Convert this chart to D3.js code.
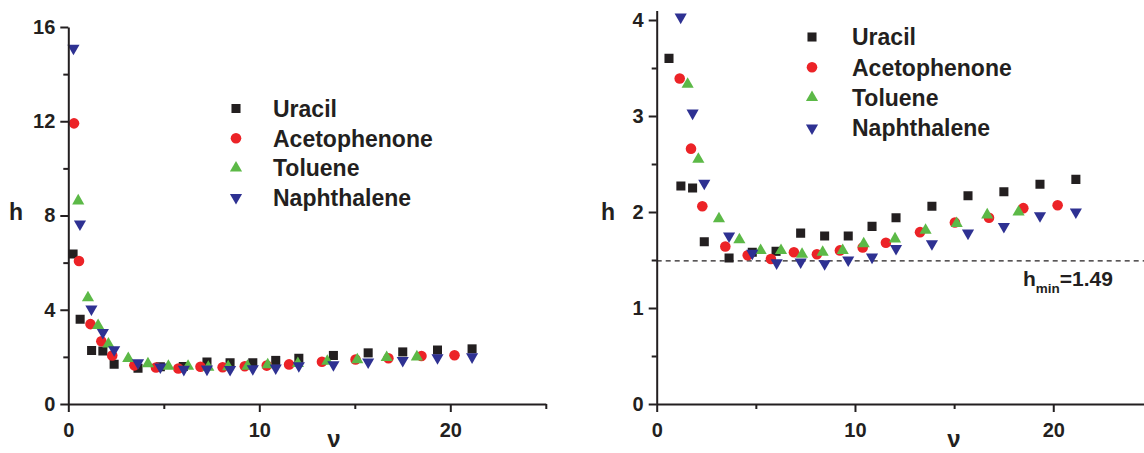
<!DOCTYPE html>
<html>
<head>
<meta charset="utf-8">
<script src="https://cdn.jsdelivr.net/npm/d3@7"></script>
<style>
  html, body { margin: 0; padding: 0; background: #fff; }
  svg { display: block; }
  text { font-family: "Liberation Sans", Arial, sans-serif; font-weight: bold; fill: #231f20; }
</style>
</head>
<body>
<svg id="chart" width="1144" height="453"></svg>
<script>
// Plate height h versus reduced velocity ν for four test solutes
const seriesNames = ["Uracil", "Acetophenone", "Toluene", "Naphthalene"];

const uracilNu = [0.25, 0.62, 1.22, 1.81, 2.40, 3.65, 4.82, 6.02, 7.26, 8.47, 9.66, 10.86, 12.07, 13.88, 15.70, 17.51, 19.33, 21.14];
const uracilH  = [6.37, 3.60, 2.27, 2.25, 1.69, 1.52, 1.58, 1.59, 1.78, 1.75, 1.75, 1.85, 1.94, 2.06, 2.17, 2.21, 2.29, 2.34];

const acetNu = [0.30, 0.56, 1.16, 1.73, 2.30, 3.46, 4.59, 5.76, 6.92, 8.08, 9.24, 10.39, 11.56, 13.28, 15.04, 16.76, 18.49, 20.22];
const acetH  = [11.91, 6.07, 3.39, 2.66, 2.06, 1.64, 1.55, 1.51, 1.58, 1.56, 1.60, 1.63, 1.68, 1.79, 1.89, 1.94, 2.04, 2.07];

const tolNu = [0.52, 1.03, 1.56, 2.10, 3.14, 4.17, 5.24, 6.27, 7.33, 8.37, 9.38, 10.44, 12.02, 13.56, 15.13, 16.67, 18.25];
const tolH  = [8.62, 4.51, 3.33, 2.55, 1.93, 1.71, 1.60, 1.60, 1.56, 1.58, 1.60, 1.67, 1.72, 1.81, 1.88, 1.97, 2.00];

const naphNu = [0.27, 0.61, 1.21, 1.81, 2.40, 3.65, 4.82, 6.05, 7.26, 8.47, 9.66, 10.86, 12.07, 13.88, 15.70, 17.51, 19.33, 21.14];
const naphH  = [15.1, 7.64, 4.03, 3.03, 2.30, 1.75, 1.57, 1.47, 1.48, 1.46, 1.50, 1.53, 1.62, 1.67, 1.78, 1.85, 1.96, 2.00];

const hMin = 1.49;

const leftYTicks = [0, 4, 8, 12, 16];
const leftYMinor = [2, 6, 10, 14];
const rightYTicks = [0, 1, 2, 3, 4];
const rightYMinor = [0.5, 1.5, 2.5, 3.5];
const xTicks = [0, 10, 20];
const xMinor = [5, 15, 25];

const seriesNu = [uracilNu, acetNu, tolNu, naphNu];
const seriesH = [uracilH, acetH, tolH, naphH];

// marker styling per series
const styles = [
  { type: d3.symbolSquare,   size: 82, rotate: 0,   color: "#231f20" },
  { type: d3.symbolCircle,   size: 88, rotate: 0,   color: "#ec2327" },
  { type: d3.symbolTriangle, size: 64, rotate: 0,   color: "#5cb947" },
  { type: d3.symbolTriangle, size: 64, rotate: 180, color: "#2e3192" }
];

const series = seriesNames.map((name, i) => ({
  name,
  style: styles[i],
  points: seriesNu[i].map((nu, j) => ({ nu, h: seriesH[i][j] }))
}));

const svg = d3.select("#chart");

function drawPanel(cfg) {
  const g = svg.append("g");
  const x = d3.scaleLinear().domain(cfg.xDomain).range(cfg.xRange);
  const y = d3.scaleLinear().domain(cfg.yDomain).range(cfg.yRange);

  const clipId = "clip-" + cfg.id;
  svg.append("clipPath").attr("id", clipId)
    .append("rect")
    .attr("x", cfg.xRange[0] - 8).attr("y", cfg.yRange[1] - 4)
    .attr("width", cfg.xRange[1] - cfg.xRange[0] + 16)
    .attr("height", cfg.yRange[0] - cfg.yRange[1] + 8);

  // optional reference line
  if (cfg.refLine != null) {
    g.append("line")
      .attr("x1", x(0)).attr("x2", 1144)
      .attr("y1", y(cfg.refLine)).attr("y2", y(cfg.refLine))
      .attr("stroke", "#231f20").attr("stroke-width", 1.3)
      .attr("stroke-dasharray", "5,4");
  }

  // data markers
  const marks = g.append("g").attr("clip-path", `url(#${clipId})`);
  series.forEach(s => {
    const sym = d3.symbol().type(s.style.type).size(s.style.size);
    marks.append("g").selectAll("path")
      .data(s.points.filter(p => p.h <= cfg.yDomain[1] + 0.05))
      .join("path")
      .attr("d", sym)
      .attr("transform", d => `translate(${x(d.nu)},${y(d.h)}) rotate(${s.style.rotate})`)
      .attr("fill", s.style.color);
  });

  // axes
  const styleAxis = sel => {
    sel.selectAll(".domain").attr("stroke", "#231f20").attr("stroke-width", 2);
    sel.selectAll(".tick line").attr("stroke", "#231f20").attr("stroke-width", 2);
    sel.selectAll(".tick text").style("font-size", "20px").attr("fill", "#231f20");
  };

  const xAxis = g.append("g").attr("transform", `translate(0,${cfg.yRange[0]})`)
    .call(d3.axisBottom(x).tickValues(xTicks).tickSize(8).tickSizeOuter(0).tickPadding(11).tickFormat(d3.format("d")))
    .call(styleAxis);
  xAxis.attr("font-family", null);
  g.append("g").attr("transform", `translate(0,${cfg.yRange[0]})`)
    .call(d3.axisBottom(x).tickValues(xMinor).tickSize(5).tickSizeOuter(0).tickFormat(""))
    .call(styleAxis).select(".domain").remove();

  const yAxis = g.append("g").attr("transform", `translate(${cfg.xRange[0]},0)`)
    .call(d3.axisLeft(y).tickValues(cfg.yTicks).tickSize(8).tickSizeOuter(0).tickPadding(5).tickFormat(d3.format("d")))
    .call(styleAxis);
  yAxis.attr("font-family", null);
  g.append("g").attr("transform", `translate(${cfg.xRange[0]},0)`)
    .call(d3.axisLeft(y).tickValues(cfg.yMinor).tickSize(5).tickSizeOuter(0).tickFormat(""))
    .call(styleAxis).select(".domain").remove();

  // axis titles
  g.append("text").attr("x", cfg.hLabel[0]).attr("y", cfg.hLabel[1])
    .style("font-size", "23px").text("h");
  g.append("text").attr("x", cfg.nuLabel[0]).attr("y", cfg.nuLabel[1])
    .attr("text-anchor", "middle").style("font-size", "24px").text("ν");

  // legend
  const lg = g.append("g");
  series.forEach((s, i) => {
    const cy = cfg.legend.y0 + i * cfg.legend.dy;
    lg.append("path")
      .attr("d", d3.symbol().type(s.style.type).size(s.style.size))
      .attr("transform", `translate(${cfg.legend.mx},${cy}) rotate(${s.style.rotate})`)
      .attr("fill", s.style.color);
    lg.append("text").attr("x", cfg.legend.tx).attr("y", cy + 8.3)
      .style("font-size", "23px").text(s.name);
  });

  return { x, y, g };
}

drawPanel({
  id: "left",
  xDomain: [0, 25], xRange: [68.3, 545.8],
  yDomain: [0, 16], yRange: [404, 27],
  yTicks: leftYTicks, yMinor: leftYMinor,
  hLabel: [9, 220], nuLabel: [334, 447],
  legend: { mx: 236, tx: 273, y0: 108.5, dy: 29.7 },
  refLine: null
});

const right = drawPanel({
  id: "right",
  xDomain: [0, 25], xRange: [656.7, 1152.4],
  yDomain: [0, 4.1], yRange: [404, 10.4],
  yTicks: rightYTicks, yMinor: rightYMinor,
  hLabel: [601, 220], nuLabel: [954, 447],
  legend: { mx: 812, tx: 852, y0: 37, dy: 30.3 },
  refLine: hMin
});

// minimum plate height annotation
const ann = right.g.append("text").attr("x", 1023).attr("y", right.y(hMin) + 25);
ann.append("tspan").style("font-size", "21px").text("h");
ann.append("tspan").style("font-size", "13.5px").attr("dy", 7).text("min");
ann.append("tspan").style("font-size", "21px").attr("dy", -7).text("=" + hMin.toFixed(2));
</script>
</body>
</html>
